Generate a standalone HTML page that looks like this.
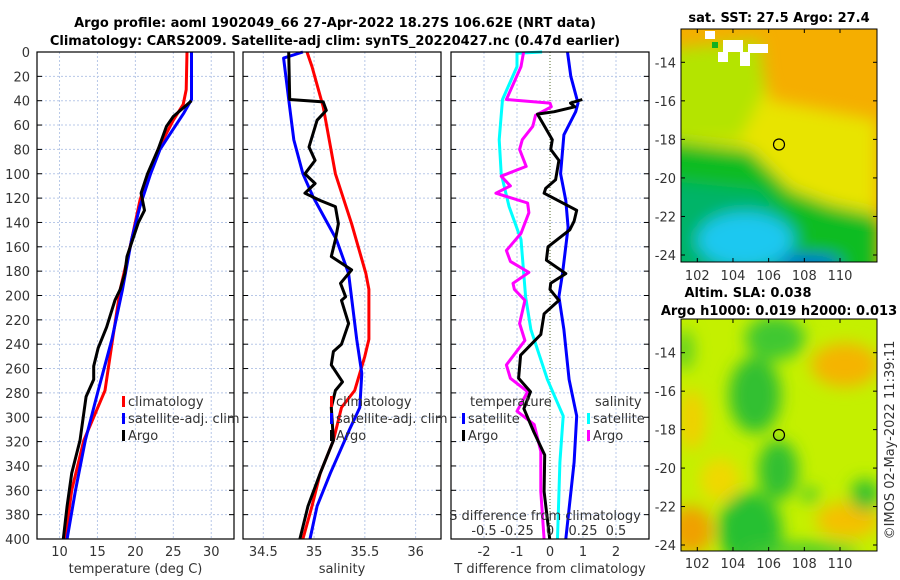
<!DOCTYPE html>
<html><head><meta charset="utf-8"><style>
html,body{margin:0;padding:0;background:#fff;}
svg{display:block;font-family:"DejaVu Sans","Liberation Sans",sans-serif;}
.t{font-size:13px;fill:#333;}
.b{font-size:13px;font-weight:bold;fill:#000;}
</style></head><body>
<svg id="fig" width="900" height="580" viewBox="0 0 900 580">
<defs>
<clipPath id="c1"><rect x="681" y="29" width="196" height="233"/></clipPath>
<clipPath id="c2"><rect x="681" y="319" width="196" height="232"/></clipPath>
<filter id="bl" x="-50%" y="-50%" width="200%" height="200%"><feGaussianBlur stdDeviation="8"/></filter>
<filter id="bl2" x="-50%" y="-50%" width="200%" height="200%"><feGaussianBlur stdDeviation="4"/></filter>
</defs>
<g>
<text class="b" x="335" y="27" text-anchor="middle">Argo profile: aoml 1902049_66 27-Apr-2022 18.27S 106.62E (NRT data)</text>
<text class="b" x="335" y="45" text-anchor="middle">Climatology: CARS2009. Satellite-adj clim: synTS_20220427.nc (0.47d earlier)</text>
</g>
<!-- SST map -->
<g clip-path="url(#c1)">
<rect x="681" y="29" width="196" height="233" fill="#f5ae00"/>
<g filter="url(#bl)">
<polygon points="660,60 760,60 770,100 877,120 877,240 660,240" fill="#e8e400"/>
<polygon points="660,50 760,40 765,90 740,140 660,140" fill="#b4e400"/>
<polygon points="660,140 750,150 790,190 830,205 877,215 877,280 660,280" fill="#10bc20"/>
<polygon points="660,180 760,190 800,230 800,280 660,280" fill="#00b468"/>
<ellipse cx="745" cy="240" rx="48" ry="28" fill="#1ec8f0"/>
<ellipse cx="810" cy="263" rx="32" ry="8" fill="#0060e0"/>
</g>
<rect x="705" y="31" width="10" height="8" fill="#fff"/><rect x="723" y="40" width="20" height="12" fill="#fff"/>
<rect x="748" y="44" width="20" height="9" fill="#fff"/><rect x="740" y="52" width="10" height="14" fill="#fff"/>
<rect x="718" y="52" width="10" height="10" fill="#fff"/><rect x="712" y="42" width="6" height="6" fill="#10b020"/>
<circle cx="779" cy="144.5" r="5.5" fill="none" stroke="#000" stroke-width="1.2"/>
</g>
<rect x="681" y="29" width="196" height="233" fill="none" stroke="#000" stroke-width="1"/>
<text class="b" x="779" y="22" text-anchor="middle">sat. SST: 27.5 Argo: 27.4</text>
<!-- SLA map -->
<g clip-path="url(#c2)">
<rect x="681" y="319" width="196" height="232" fill="#c4f000"/>
<g filter="url(#bl)">
<ellipse cx="691" cy="530" rx="22" ry="24" fill="#f0a000"/>
<ellipse cx="845" cy="365" rx="34" ry="22" fill="#f5b400"/>
<ellipse cx="848" cy="520" rx="32" ry="18" fill="#f5c000"/>
<ellipse cx="692" cy="420" rx="14" ry="30" fill="#f0d000"/>
<ellipse cx="720" cy="480" rx="20" ry="22" fill="#f0d800"/>
<ellipse cx="755" cy="395" rx="26" ry="38" fill="#30c030"/>
<ellipse cx="775" cy="338" rx="30" ry="22" fill="#40c830"/>
<ellipse cx="778" cy="470" rx="20" ry="30" fill="#30c030"/>
<ellipse cx="750" cy="530" rx="32" ry="38" fill="#28c030"/>
<ellipse cx="865" cy="495" rx="14" ry="16" fill="#30c030"/>
<ellipse cx="810" cy="495" rx="8" ry="8" fill="#40c830"/>
<ellipse cx="800" cy="551" rx="60" ry="8" fill="#40c830"/>
<ellipse cx="684" cy="350" rx="10" ry="20" fill="#60d020"/>
</g>
<circle cx="779" cy="435" r="5.5" fill="none" stroke="#000" stroke-width="1.2"/>
</g>
<rect x="681" y="319" width="196" height="232" fill="none" stroke="#000" stroke-width="1"/>
<text class="b" x="748" y="297" text-anchor="middle">Altim. SLA: 0.038</text>
<text class="b" x="779" y="315" text-anchor="middle">Argo h1000: 0.019 h2000: 0.013</text>
<text class="t" transform="translate(894,440) rotate(-90)" text-anchor="middle">©IMOS 02-May-2022 11:39:11</text>
<g id="axes"></g>
</svg>
<script>
// depth levels (m) for each series
const tClimD = [0,31,43,56,80,100,122,160,195,236,278,319,360,400];
const tClimV = [26.8,26.7,26.3,25.0,23.0,21.7,20.6,19.3,18.0,17.0,16.0,13.2,11.6,10.75];
const tSatD = [0,39,50,67,80,100,127,154,195,236,278,319,360,400];
const tSatV = [27.4,27.4,26.4,24.6,23.25,22.0,20.6,19.5,18.3,16.9,15.1,13.4,12.1,11.0];
const tArgoD = [40,53,61,80,100,116,130,140,168,182,195,204,226,243,258,269,283,319,346,373,400];
const tArgoV = [27.4,25.0,24.1,23.0,21.6,20.75,21.2,20.4,18.9,18.6,18.0,17.3,16.2,15.1,14.5,14.5,13.5,12.7,11.6,11.0,10.5];
const sClimD = [0,12,45,100,141,182,195,236,250,278,292,319,346,373,400];
const sClimV = [34.93,34.98,35.09,35.21,35.37,35.51,35.54,35.54,35.50,35.40,35.27,35.19,35.06,34.98,34.89];
const sSatD = [0,5,39,72,100,119,154,182,236,264,292,310,346,373,400];
const sSatV = [34.89,34.70,34.75,34.80,34.89,34.99,35.22,35.34,35.42,35.47,35.45,35.35,35.16,35.03,34.96];
const sArgoD = [0,39,41,48,56,78,89,100,108,116,122,127,141,154,168,179,190,201,204,223,240,246,257,271,278,292,319,346,373,400];
const sArgoV = [34.75,34.76,35.09,35.12,35.03,34.95,35.01,34.91,35.01,34.91,35.06,35.21,35.24,35.21,35.17,35.37,35.26,35.31,35.27,35.34,35.27,35.19,35.17,35.28,35.21,35.17,35.19,35.06,34.94,34.86];
const dtSatD = [0,20,42,49,68,100,122,144,182,201,228,269,299,337,400];
const dtSatV = [0.53,0.63,0.85,0.78,0.42,0.32,0.48,0.55,0.38,0.27,0.42,0.58,0.81,0.73,0.48];
const dtArgoD = [39,42,45,49,51,72,80,89,105,112,116,130,139,146,160,171,182,190,195,204,215,232,249,268,279,293,312,331,361,400];
const dtArgoV = [0.98,0.62,0.75,0.13,-0.38,0.07,0.02,0.27,0.17,-0.13,-0.18,0.81,0.73,0.6,-0.06,-0.11,0.48,0.02,0.0,0.27,-0.18,-0.28,-0.89,-0.95,-0.59,-0.79,-0.49,-0.16,-0.18,-0.01];
const dsSatD = [0,1,12,39,72,100,127,154,201,228,269,299,337,400];
const dsSatV = [-0.06,-0.25,-0.25,-0.36,-0.385,-0.37,-0.31,-0.22,-0.185,-0.145,-0.02,0.10,0.075,0.057];
const dsArgoD = [0,12,39,42,45,52,61,72,80,94,102,110,116,124,132,149,163,172,181,190,195,204,223,237,257,268,279,295,306,328,361,400];
const dsArgoV = [-0.2,-0.22,-0.33,0.0,0.01,-0.11,-0.13,-0.21,-0.23,-0.18,-0.37,-0.3,-0.41,-0.17,-0.16,-0.22,-0.33,-0.3,-0.16,-0.28,-0.27,-0.19,-0.23,-0.19,-0.33,-0.3,-0.17,-0.25,-0.12,-0.07,-0.07,-0.045];
const depthTicks = [0,20,40,60,80,100,120,140,160,180,200,220,240,260,280,300,320,340,360,380,400];
const tTicks = [10,15,20,25,30];
const sTicks = [34.5,35,35.5,36];
const dTicks = [-2,-1,0,1,2];
const dsTicks = [-0.5,-0.25,0,0.25,0.5];
const latTicks = [-14,-16,-18,-20,-22,-24];
const lonTicks = [102,104,106,108,110];

const NS='http://www.w3.org/2000/svg';
const g=document.getElementById('axes');
function el(tag,attrs,parent){const e=document.createElementNS(NS,tag);for(const k in attrs)e.setAttribute(k,attrs[k]);(parent||g).appendChild(e);return e;}
const Y0=52,Y1=539;
const yD=d=>Y0+(Y1-Y0)*d/400;
const panels=[
 {x0:37,x1:234,min:7.03,max:33,ticks:tTicks,label:'temperature (deg C)',name:'temperature-panel'},
 {x0:243,x1:441,min:34.30,max:36.25,ticks:sTicks,label:'salinity',name:'salinity-panel'},
 {x0:451,x1:649,min:-3,max:3,ticks:dTicks,label:'T difference from climatology',name:'difference-panel'}
];
panels.forEach(p=>{p.xf=v=>p.x0+(p.x1-p.x0)*(v-p.min)/(p.max-p.min);});
panels.forEach((p,i)=>{
 const pg=el('g',{});
 
 
 depthTicks.forEach(d=>{
  if(d>0&&d<400){const gl=el('line',{x1:p.x0,x2:p.x1,y1:yD(d),y2:yD(d),stroke:'#b8c8e8','stroke-width':1,'stroke-dasharray':'2,2'},pg);}
  el('line',{x1:p.x0,x2:p.x0+5,y1:yD(d),y2:yD(d),stroke:'#000'},pg);
  el('line',{x1:p.x1-5,x2:p.x1,y1:yD(d),y2:yD(d),stroke:'#000'},pg);
 });
 p.ticks.forEach(v=>{
  const x=p.xf(v);
  if(i===2&&v===0){el('line',{x1:x,x2:x,y1:Y0,y2:Y1,stroke:'#556b2f','stroke-width':1,'stroke-dasharray':'1,2'},pg);}
  else {const gl=el('line',{x1:x,x2:x,y1:Y0,y2:Y1,stroke:'#b8c8e8','stroke-width':1,'stroke-dasharray':'2,2'},pg);}
  const tl=el('text',{x:x,y:556,'text-anchor':'middle',class:'t'},pg);
  tl.textContent=String(v);
  
  
 });
 const xl=el('text',{x:(p.x0+p.x1)/2,y:573,'text-anchor':'middle',class:'t'},pg);
 xl.textContent=p.label;
 
 
 p.g=pg;
});
depthTicks.forEach(d=>{
 const t=el('text',{x:30,y:yD(d)+5,'text-anchor':'end',class:'t'});
 t.textContent=String(d);
 
 
});
function line(p,D,V,color,name,scale){
 const pts=D.map((d,k)=>p.xf(V[k]*(scale||1)).toFixed(1)+','+yD(d).toFixed(1)).join(' ');
 const e=el('polyline',{points:pts,fill:'none',stroke:color,'stroke-width':3,'stroke-linejoin':'round'},p.g);
 
 
}
const [P1,P2,P3]=panels;
line(P1,tClimD,tClimV,'#ff0000','temp-climatology-line');
line(P1,tSatD,tSatV,'#0000ff','temp-satellite-line');
line(P1,tArgoD,tArgoV,'#000','temp-argo-line');
line(P2,sClimD,sClimV,'#ff0000','sal-climatology-line');
line(P2,sSatD,sSatV,'#0000ff','sal-satellite-line');
line(P2,sArgoD,sArgoV,'#000','sal-argo-line');
line(P3,dsSatD,dsSatV,'#00ffff','sdiff-satellite-line',4);
line(P3,dtSatD,dtSatV,'#0000ff','tdiff-satellite-line');
line(P3,dsArgoD,dsArgoV,'#ff00ff','sdiff-argo-line',4);
line(P3,dtArgoD,dtArgoV,'#000','tdiff-argo-line');
panels.forEach(p=>{el('rect',{x:p.x0,y:Y0,width:p.x1-p.x0,height:Y1-Y0,fill:'none',stroke:'#000','stroke-width':1.2},p.g);});
// S-diff secondary axis labels
const sd=el('text',{x:545,y:520,'text-anchor':'middle',class:'t'});
sd.textContent='S difference from climatology';


dsTicks.forEach(v=>{
 const t=el('text',{x:P3.xf(v*4),y:535,'text-anchor':'middle',class:'t'});
 t.textContent=String(v);
 
 
});
// legends
function legend(x,y,color,label){
 const lg=el('g',{});
 
 
 el('rect',{x:x,y:y-10,width:3,height:11,fill:color},lg);
 const t=el('text',{x:x+6,y:y,class:'t'},lg);t.textContent=label;
}
legend(122,406,'#ff0000','climatology');legend(122,423,'#0000ff','satellite-adj. clim');legend(122,440,'#000','Argo');
legend(330,406,'#ff0000','climatology');legend(330,423,'#0000ff','satellite-adj. clim');legend(330,440,'#000','Argo');
const lt=el('text',{x:470,y:406,class:'t'});lt.textContent='temperature';


legend(462,423,'#0000ff','satellite');legend(462,440,'#000','Argo');
const ls=el('text',{x:595,y:406,class:'t'});ls.textContent='salinity';


legend(587,423,'#00ffff','satellite');legend(587,440,'#ff00ff','Argo');
// map ticks
function mapAxes(top,bottom,lat14,lat24,lonY){
 latTicks.forEach(v=>{
  const y=lat14+(lat24-lat14)*(-14-v)/10;
  el('line',{x1:681,x2:685,y1:y,y2:y,stroke:'#000'});
  el('line',{x1:873,x2:877,y1:y,y2:y,stroke:'#000'});
  const t=el('text',{x:676,y:y+5,'text-anchor':'end',class:'t'});
  t.textContent=String(v);
  
  
 });
 lonTicks.forEach(v=>{
  const x=697.3+(840-697.3)*(v-102)/8;
  el('line',{x1:x,x2:x,y1:bottom-4,y2:bottom,stroke:'#000'});
  el('line',{x1:x,x2:x,y1:top,y2:top+4,stroke:'#000'});
  const t=el('text',{x:x,y:lonY,'text-anchor':'middle',class:'t'});
  t.textContent=String(v);
  
  
 });
}
mapAxes(29,262,62.3,255,280);
mapAxes(319,551,352.7,545,568);
</script>
</body></html>
